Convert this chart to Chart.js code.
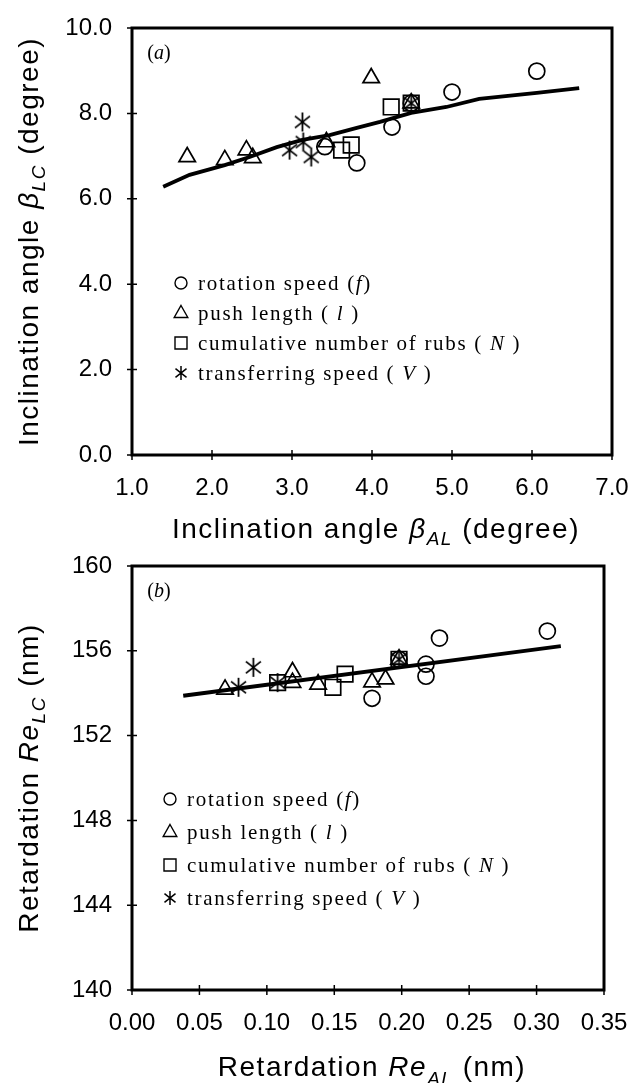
<!DOCTYPE html>
<html>
<head>
<meta charset="utf-8">
<script src="https://cdn.jsdelivr.net/npm/chart.js@4.4.0/dist/chart.umd.min.js"></script>
<style>
  html, body { margin: 0; padding: 0; background: #fff; }
  #wrap { position: relative; width: 642px; height: 1083px; overflow: hidden; }
  canvas { position: absolute; left: 0; }
</style>
</head>
<body>
<div id="wrap">
  <canvas id="graficoa" width="642" height="552" style="top:0"></canvas>
  <canvas id="graficob" width="642" height="531" style="top:552px"></canvas>
</div>
<script>
// (a) inclination angle
const aRotX = [3.41, 3.81, 4.25, 5.00, 6.06, 4.49];
const aRotY = [7.22, 6.84, 7.68, 8.50, 8.99, 8.24];
const aPushX = [1.69, 2.16, 2.43, 2.51, 3.43, 3.99, 4.49];
const aPushY = [6.98, 6.91, 7.14, 6.96, 7.33, 8.83, 8.24];
const aRubsX = [3.62, 3.74, 4.24, 4.49];
const aRubsY = [7.14, 7.26, 8.15, 8.24];
const aTransfX = [2.97, 3.13, 3.14, 3.24, 4.49];
const aTransfY = [7.14, 7.80, 7.33, 6.98, 8.24];
const aFitX = [1.39, 1.72, 2.16, 2.47, 2.81, 3.13, 3.47, 3.81, 4.10, 4.49, 4.93, 5.34, 6.06, 6.59];
const aFitY = [6.28, 6.56, 6.79, 6.98, 7.21, 7.38, 7.49, 7.66, 7.80, 8.01, 8.15, 8.34, 8.48, 8.59];
const eixoXA = [1, 2, 3, 4, 5, 6, 7];
const eixoYA = [0, 2, 4, 6, 8, 10];

// (b) retardation
const bRotX = [0.178, 0.218, 0.218, 0.228, 0.308, 0.198];
const bRotY = [153.76, 154.80, 155.37, 156.60, 156.93, 155.60];
const bPushX = [0.069, 0.119, 0.119, 0.138, 0.178, 0.188, 0.198];
const bPushY = [154.18, 154.50, 155.00, 154.42, 154.52, 154.66, 155.60];
const bRubsX = [0.108, 0.149, 0.158, 0.198];
const bRubsY = [154.50, 154.28, 154.90, 155.60];
const bTransfX = [0.079, 0.090, 0.108, 0.198];
const bTransfY = [154.28, 155.22, 154.50, 155.60];
const bFitX = [0.038, 0.318];
const bFitY = [153.88, 156.22];
const eixoXB = [0, 0.05, 0.10, 0.15, 0.20, 0.25, 0.30, 0.35];
const eixoYB = [140, 144, 148, 152, 156, 160];

const legendaTextos = [
  ['rotation speed (', 'f', ')'],
  ['push length ( ', 'l', ' )'],
  ['cumulative number of rubs ( ', 'N', ' )'],
  ['transferring speed ( ', 'V', ' )']
];

const SANS = '"Liberation Sans", Arial, sans-serif';
const SERIF = '"Liberation Serif", "Times New Roman", serif';

function pts(xs, ys) {
  return xs.map((x, i) => ({ x: x, y: ys[i] }));
}

function criarAsterisco(tam, lw) {
  const c = document.createElement('canvas');
  c.width = tam; c.height = tam;
  const g = c.getContext('2d');
  const r = tam / 2 - 1;
  g.strokeStyle = '#000';
  g.lineWidth = lw;
  g.beginPath();
  [90, 38, 142].forEach(a => {
    const t = a * Math.PI / 180;
    g.moveTo(tam / 2 - r * Math.cos(t), tam / 2 - r * Math.sin(t));
    g.lineTo(tam / 2 + r * Math.cos(t), tam / 2 + r * Math.sin(t));
  });
  g.stroke();
  return c;
}
const asterisco = criarAsterisco(21, 1.8);
const asteriscoPeq = criarAsterisco(16, 1.5);

function desenharMarcador(ctx, tipo, x, y) {
  ctx.save();
  ctx.strokeStyle = '#000';
  ctx.lineWidth = 1.4;
  ctx.beginPath();
  if (tipo === 0) {
    ctx.arc(x, y, 6, 0, Math.PI * 2);
  } else if (tipo === 1) {
    ctx.moveTo(x, y - 7.5);
    ctx.lineTo(x + 6.8, y + 4.5);
    ctx.lineTo(x - 6.8, y + 4.5);
    ctx.closePath();
  } else if (tipo === 2) {
    ctx.rect(x - 6, y - 6, 12, 12);
  }
  ctx.stroke();
  if (tipo === 3) ctx.drawImage(asteriscoPeq, x - 8, y - 8);
  ctx.restore();
}

function textoRico(ctx, partes, x, y) {
  let total = 0;
  partes.forEach(p => { ctx.font = p.f; total += ctx.measureText(p.t).width; });
  let cx = x - total / 2;
  partes.forEach(p => {
    ctx.font = p.f;
    ctx.fillText(p.t, cx, y + (p.dy || 0));
    cx += ctx.measureText(p.t).width;
  });
}

const molduraPlugin = {
  id: 'moldura',
  afterDraw(chart) {
    const cfg = chart.options.plugins.moldura;
    const ctx = chart.ctx;
    const ca = chart.chartArea;
    const sx = chart.scales.x, sy = chart.scales.y;
    ctx.save();
    ctx.strokeStyle = '#000';
    ctx.fillStyle = '#000';
    ctx.lineWidth = 3;
    ctx.strokeRect(ca.left, ca.top, ca.right - ca.left, ca.bottom - ca.top);
    ctx.lineWidth = 1.5;
    ctx.beginPath();
    sx.ticks.forEach(t => {
      const px = sx.getPixelForValue(t.value);
      ctx.moveTo(px, ca.bottom - 5); ctx.lineTo(px, ca.bottom + 5);
    });
    sy.ticks.forEach(t => {
      const py = sy.getPixelForValue(t.value);
      ctx.moveTo(ca.left - 5, py); ctx.lineTo(ca.left + 5, py);
    });
    ctx.stroke();

    // painel (a)/(b)
    ctx.textBaseline = 'alphabetic';
    textoRico(ctx, [
      { t: '(', f: '20px ' + SERIF },
      { t: cfg.painel, f: 'italic 20px ' + SERIF },
      { t: ')', f: '20px ' + SERIF }
    ], ca.left + 27, ca.top + 31);

    // titulos
    ctx.letterSpacing = '1.5px';
    const F = '28px ' + SANS, FI = 'italic 28px ' + SANS, FS = 'italic 19px ' + SANS;
    textoRico(ctx, [
      { t: cfg.tituloX[0], f: F }, { t: cfg.tituloX[1], f: FI },
      { t: cfg.tituloX[2], f: FS, dy: cfg.subDy }, { t: cfg.tituloX[3], f: F }
    ], (ca.left + ca.right) / 2 + 4, cfg.tituloXBase);
    ctx.save();
    ctx.translate(cfg.tituloYX, (ca.top + ca.bottom) / 2);
    ctx.rotate(-Math.PI / 2);
    textoRico(ctx, [
      { t: cfg.tituloY[0], f: F }, { t: cfg.tituloY[1], f: FI },
      { t: cfg.tituloY[2], f: FS, dy: 7 }, { t: cfg.tituloY[3], f: F }
    ], 0, 0);
    ctx.restore();

    // legenda
    ctx.letterSpacing = '1.7px';
    legendaTextos.forEach((linha, i) => {
      const y = cfg.legY + i * cfg.legDy;
      desenharMarcador(ctx, i, cfg.legX, y);
      let cx = cfg.legX + 17;
      linha.forEach((parte, k) => {
        ctx.font = (k === 1 ? 'italic ' : '') + '21px ' + SERIF;
        ctx.textBaseline = 'middle';
        ctx.fillText(parte, cx, y + 1);
        cx += ctx.measureText(parte).width;
      });
    });
    ctx.restore();
  }
};

function conjuntos(rx, ry, px, py, qx, qy, tx, ty, fx, fy) {
  const base = {
    showLine: false,
    pointBorderColor: '#000',
    pointBackgroundColor: 'rgba(0,0,0,0)',
    pointBorderWidth: 1.7
  };
  return [
    { label: 'fit', data: pts(fx, fy), showLine: true, borderColor: '#000', borderWidth: 3.8, pointRadius: 0, fill: false },
    Object.assign({ label: 'rotation speed', data: pts(rx, ry), pointStyle: 'circle', pointRadius: 8 }, base),
    Object.assign({ label: 'push length', data: pts(px, py), pointStyle: 'triangle', pointRadius: 9.5 }, base),
    Object.assign({ label: 'cumulative number of rubs', data: pts(qx, qy), pointStyle: 'rect', pointRadius: 11 }, base),
    Object.assign({ label: 'transferring speed', data: pts(tx, ty), pointStyle: asterisco, pointRadius: 10 }, base)
  ];
}

function gerarGrafico(elementId, datasets, eixoX, eixoY, dec, cfg) {
  const ctx = document.getElementById(elementId).getContext('2d');
  new Chart(ctx, {
    type: 'scatter',
    data: { datasets: datasets },
    options: {
      responsive: false,
      animation: false,
      layout: { padding: { top: cfg.top, right: cfg.right, left: 0, bottom: 0 } },
      plugins: {
        legend: { display: false },
        tooltip: { enabled: false },
        moldura: cfg
      },
      scales: {
        x: {
          type: 'linear',
          min: eixoX[0],
          max: eixoX[eixoX.length - 1],
          afterBuildTicks: s => { s.ticks = eixoX.map(v => ({ value: v })); },
          afterFit: s => { s.height = cfg.alturaX; s.paddingLeft = 0; s.paddingRight = 0; },
          grid: { display: false, drawTicks: false },
          border: { display: false },
          ticks: {
            color: '#000',
            font: { family: SANS, size: 24 },
            padding: 19,
            maxRotation: 0,
            autoSkip: false,
            callback: v => Number(v).toFixed(dec)
          }
        },
        y: {
          type: 'linear',
          min: eixoY[0],
          max: eixoY[eixoY.length - 1],
          afterBuildTicks: s => { s.ticks = eixoY.map(v => ({ value: v })); },
          afterFit: s => { s.width = 132; s.paddingTop = 0; s.paddingBottom = 0; },
          grid: { display: false, drawTicks: false },
          border: { display: false },
          ticks: {
            color: '#000',
            font: { family: SANS, size: 24 },
            padding: 20,
            autoSkip: false,
            callback: v => (eixoY[1] - eixoY[0] < 4 ? Number(v).toFixed(1) : String(v))
          }
        }
      }
    },
    plugins: [molduraPlugin]
  });
}

gerarGrafico('graficoa',
  conjuntos(aRotX, aRotY, aPushX, aPushY, aRubsX, aRubsY, aTransfX, aTransfY, aFitX, aFitY),
  eixoXA, eixoYA, 1,
  {
    top: 28, right: 30, alturaX: 97,
    painel: 'a',
    tituloX: ['Inclination angle ', '\u03B2', 'AL', ' (degree)'],
    tituloY: ['Inclination angle ', '\u03B2', 'LC', ' (degree)'],
    tituloXBase: 538, subDy: 7, tituloYX: 38,
    legX: 181, legY: 283, legDy: 30
  });

gerarGrafico('graficob',
  conjuntos(bRotX, bRotY, bPushX, bPushY, bRubsX, bRubsY, bTransfX, bTransfY, bFitX, bFitY),
  eixoXB, eixoYB, 2,
  {
    top: 14, right: 38, alturaX: 93,
    painel: 'b',
    tituloX: ['Retardation ', 'Re', 'AL', ' (nm)'],
    tituloY: ['Retardation ', 'Re', 'LC', ' (nm)'],
    tituloXBase: 524, subDy: 9, tituloYX: 38,
    legX: 170, legY: 247, legDy: 33
  });
</script>
</body>
</html>
